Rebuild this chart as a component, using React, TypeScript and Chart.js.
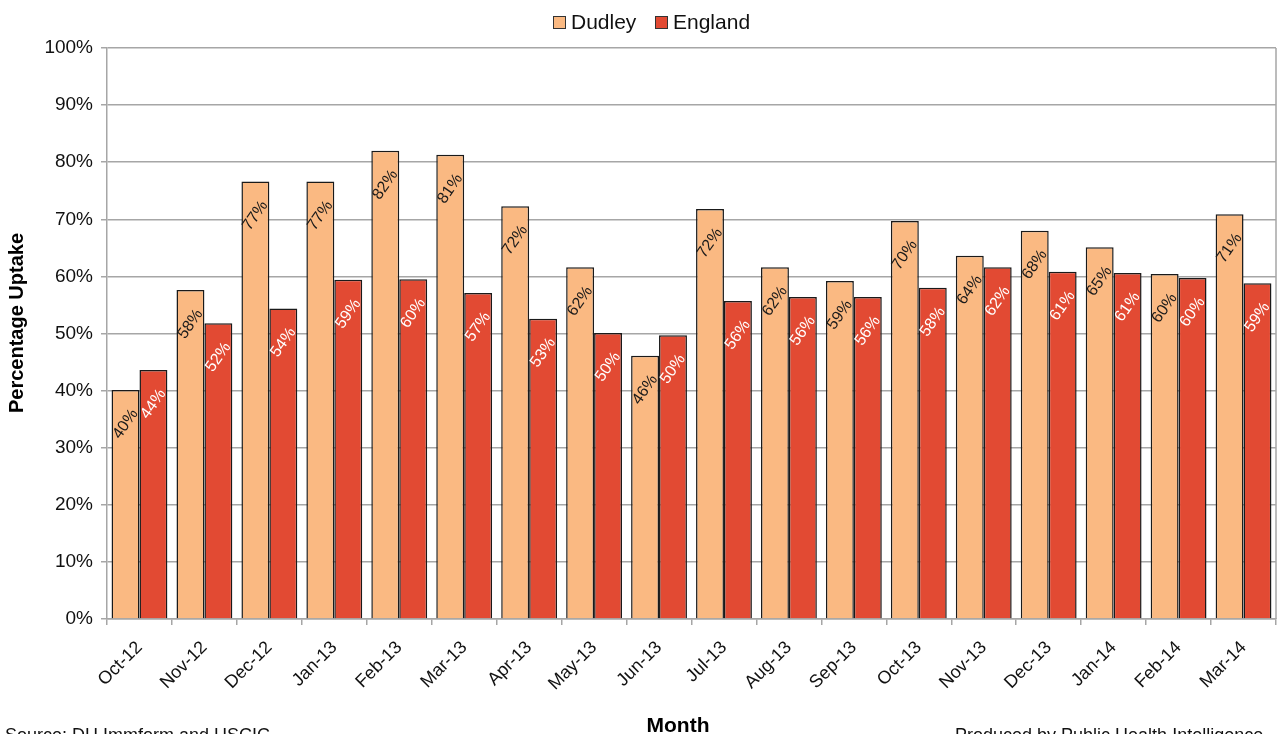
import React, { useEffect, useRef } from "react";
import { Chart, registerables } from "chart.js";

Chart.register(...registerables);

const months = [
  "Oct-12", "Nov-12", "Dec-12", "Jan-13", "Feb-13", "Mar-13", "Apr-13", "May-13", "Jun-13",
  "Jul-13", "Aug-13", "Sep-13", "Oct-13", "Nov-13", "Dec-13", "Jan-14", "Feb-14", "Mar-14",
];
const dudley = [40.1, 57.6, 76.6, 76.6, 82.0, 81.3, 72.3, 61.6, 46.1, 71.8, 61.6, 59.2, 69.7, 63.6, 68.0, 65.1, 60.4, 70.9];
const england = [43.6, 51.8, 54.4, 59.4, 59.5, 57.1, 52.6, 50.1, 49.7, 55.7, 56.4, 56.4, 58.0, 61.6, 60.8, 60.6, 59.7, 58.8];
const seriesNames = ["Dudley", "England"];
const yAxisTitle = "Percentage Uptake";
const xAxisTitle = "Month";
const sourceNote = "Source: DH Immform and HSCIC";
const producedNote = "Produced by Public Health Intelligence";

const FONT = "'Liberation Sans', Arial, Helvetica, sans-serif";
const DUDLEY_COLOR = "#FAB982";
const ENGLAND_COLOR = "#E24A33";
const GRID = "#a6a6a6";

export default function App() {
  const ref = useRef<HTMLCanvasElement | null>(null);

  useEffect(() => {
    const canvas = ref.current;
    if (!canvas) return;

    const labelsPlugin = {
      id: "barLabels",
      afterDatasetsDraw(chart: any) {
        const ctx = chart.ctx;
        chart.data.datasets.forEach((ds: any, di: number) => {
          const meta = chart.getDatasetMeta(di);
          meta.data.forEach((bar: any, i: number) => {
            const v = ds.data[i] as number;
            ctx.save();
            ctx.translate(bar.x, bar.y + 34);
            ctx.rotate((-55 * Math.PI) / 180);
            ctx.font = `16px ${FONT}`;
            ctx.fillStyle = di === 0 ? "#1a1a1a" : "#ffffff";
            ctx.textAlign = "center";
            ctx.textBaseline = "middle";
            ctx.fillText(Math.round(v) + "%", 0, 0);
            ctx.restore();
          });
        });
      },
    };

    const decorPlugin = {
      id: "decor",
      afterDraw(chart: any) {
        const ctx = chart.ctx;
        const area = chart.chartArea;
        ctx.save();
        // right frame line
        ctx.strokeStyle = GRID;
        ctx.lineWidth = 1.5;
        ctx.beginPath();
        ctx.moveTo(area.right, area.top);
        ctx.lineTo(area.right, area.bottom);
        ctx.stroke();

        // legend
        const items = [
          { name: seriesNames[0], color: DUDLEY_COLOR, x: 553 },
          { name: seriesNames[1], color: ENGLAND_COLOR, x: 655 },
        ];
        ctx.font = `21px ${FONT}`;
        ctx.textBaseline = "middle";
        ctx.textAlign = "left";
        items.forEach((it) => {
          ctx.fillStyle = it.color;
          ctx.fillRect(it.x, 16.5, 12, 12);
          ctx.strokeStyle = "#333";
          ctx.lineWidth = 1;
          ctx.strokeRect(it.x + 0.5, 16.5, 12, 12);
          ctx.fillStyle = "#111";
          ctx.fillText(it.name, it.x + 18, 23);
        });

        // y axis title
        ctx.save();
        ctx.translate(17, 323);
        ctx.rotate(-Math.PI / 2);
        ctx.font = `bold 20px ${FONT}`;
        ctx.textAlign = "center";
        ctx.textBaseline = "middle";
        ctx.fillStyle = "#000";
        ctx.fillText(yAxisTitle, 0, 0);
        ctx.restore();

        // x axis title
        ctx.font = `bold 21px ${FONT}`;
        ctx.textAlign = "center";
        ctx.textBaseline = "alphabetic";
        ctx.fillStyle = "#000";
        ctx.fillText(xAxisTitle, 678, 732);

        // notes
        ctx.font = `18px ${FONT}`;
        ctx.textAlign = "left";
        ctx.fillStyle = "#111";
        ctx.fillText(sourceNote, 5, 741);
        ctx.fillText(producedNote, 955, 741);
        ctx.restore();
      },
    };

    const chart = new Chart(canvas, {
      type: "bar",
      data: {
        labels: months,
        datasets: [
          {
            label: seriesNames[0],
            data: dudley,
            backgroundColor: DUDLEY_COLOR,
            borderColor: "#1a1a1a",
            borderWidth: 1.5,
            categoryPercentage: 0.86,
            barPercentage: 1,
          },
          {
            label: seriesNames[1],
            data: england,
            backgroundColor: ENGLAND_COLOR,
            borderColor: "#1a1a1a",
            borderWidth: 1.5,
            categoryPercentage: 0.86,
            barPercentage: 1,
          },
        ],
      },
      options: {
        responsive: false,
        devicePixelRatio: 1,
        animation: false,
        layout: { padding: { top: 48, right: 2, left: 0, bottom: 0 } },
        plugins: {
          legend: { display: false },
          tooltip: { enabled: false },
        },
        scales: {
          x: {
            grid: {
              display: true,
              drawOnChartArea: false,
              drawTicks: true,
              tickLength: 6,
              color: GRID,
              lineWidth: 1.5,
              offset: true,
            },
            border: { color: GRID, width: 1.5 },
            ticks: {
              font: { family: FONT, size: 18 },
              color: "#111",
              minRotation: 45,
              maxRotation: 45,
              autoSkip: false,
              padding: 12,
            },
            afterFit: (s: any) => {
              s.height = 115;
            },
          },
          y: {
            min: 0,
            max: 100,
            grid: { color: GRID, lineWidth: 1.5, tickLength: 6 },
            border: { color: GRID, width: 1.5 },
            ticks: {
              stepSize: 10,
              callback: (v: any) => v + "%",
              font: { family: FONT, size: 19 },
              color: "#111",
              padding: 8,
            },
            afterFit: (s: any) => {
              s.width = 107;
            },
          },
        },
      },
      plugins: [labelsPlugin, decorPlugin],
    });

    return () => chart.destroy();
  }, []);

  return (
    <div style={{ position: "absolute", left: 0, top: 0, width: 1278, height: 734, background: "#fff" }}>
      <canvas ref={ref} width={1278} height={734} style={{ display: "block" }} />
    </div>
  );
}
